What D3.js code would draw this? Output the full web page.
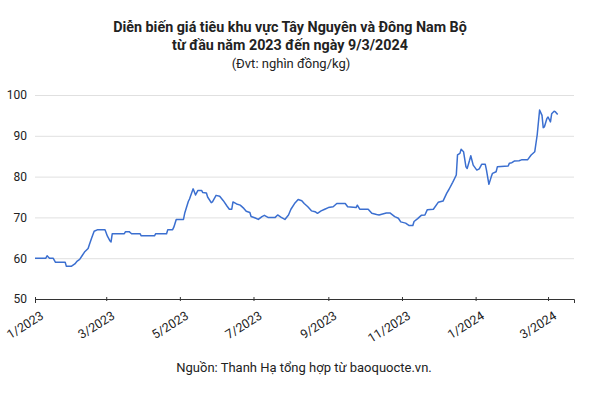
<!DOCTYPE html>
<html>
<head>
<meta charset="utf-8">
<script src="https://cdn.jsdelivr.net/npm/d3@7"></script>
<style>
  body { margin: 0; background: #fff; }
  svg { font-family: Roboto, "Noto Sans", sans-serif; }
</style>
</head>
<body>
<svg id="chart" width="591" height="396"></svg>
<script>
// giá tiêu (nghìn đồng/kg)
const dates = [
  "2023-01-01","2023-01-10","2023-01-11","2023-01-13","2023-01-16","2023-01-18","2023-01-26","2023-01-27","2023-01-31",
  "2023-02-03","2023-02-05","2023-02-07","2023-02-09","2023-02-11","2023-02-14","2023-02-15","2023-02-17","2023-02-19",
  "2023-02-22","2023-02-28","2023-03-02","2023-03-04","2023-03-05","2023-03-06","2023-03-16","2023-03-17","2023-03-20",
  "2023-03-22","2023-03-29","2023-03-30","2023-04-10","2023-04-11","2023-04-20","2023-04-21","2023-04-25","2023-04-26",
  "2023-04-28","2023-05-04","2023-05-05","2023-05-08","2023-05-09","2023-05-12","2023-05-14","2023-05-16","2023-05-19",
  "2023-05-20","2023-05-23","2023-05-24","2023-05-27","2023-05-28","2023-05-31","2023-06-03","2023-06-06","2023-06-09",
  "2023-06-11","2023-06-13","2023-06-14","2023-06-17","2023-06-20","2023-06-23","2023-06-25","2023-06-28","2023-06-29",
  "2023-07-02","2023-07-05","2023-07-08","2023-07-10","2023-07-13","2023-07-19","2023-07-21","2023-07-24","2023-07-27",
  "2023-07-30","2023-08-01","2023-08-04","2023-08-07","2023-08-10","2023-08-12","2023-08-15","2023-08-18","2023-08-21",
  "2023-08-23","2023-08-26","2023-08-29","2023-09-01","2023-09-05","2023-09-08","2023-09-15","2023-09-17","2023-09-24",
  "2023-09-25","2023-09-27","2023-10-04","2023-10-07","2023-10-11","2023-10-13","2023-10-19","2023-10-22","2023-10-26",
  "2023-10-29","2023-10-31","2023-11-04","2023-11-07","2023-11-10","2023-11-11","2023-11-14","2023-11-17","2023-11-20",
  "2023-11-22","2023-11-27","2023-12-01","2023-12-05","2023-12-08","2023-12-10","2023-12-13","2023-12-16","2023-12-17",
  "2023-12-19","2023-12-20","2023-12-22","2023-12-24","2023-12-25","2023-12-27","2023-12-28","2023-12-30","2024-01-02",
  "2024-01-04","2024-01-06","2024-01-09","2024-01-10","2024-01-12","2024-01-14","2024-01-15","2024-01-18","2024-01-19",
  "2024-01-28","2024-01-29","2024-01-31","2024-02-02","2024-02-06","2024-02-08","2024-02-13","2024-02-16","2024-02-19",
  "2024-02-21","2024-02-23","2024-02-25","2024-02-26","2024-02-27","2024-02-29","2024-03-01","2024-03-03","2024-03-04",
  "2024-03-06","2024-03-07","2024-03-09"
];
const prices = [
  60, 60, 60.6, 60, 60, 59, 59, 58, 58,
  58.6, 59.3, 59.7, 60.6, 61.5, 62.4, 63.3, 65, 66.6,
  67, 67, 65.4, 64.3, 64, 66, 66, 66.5, 66.5,
  66, 66, 65.5, 65.5, 66, 66, 67, 67, 67.6,
  69.5, 69.5, 71, 73.9, 74.5, 77, 75.5, 76.6, 76.6,
  76.1, 76, 75, 73.6, 73.8, 75.4, 75.2, 74.1, 72.8,
  72, 72, 73.8, 73.3, 73, 72.2, 71.5, 71.2, 70.2,
  69.9, 69.5, 70.2, 70.5, 70, 70, 70.6, 70, 69.5,
  70.6, 72, 73.4, 74.4, 74.1, 73.4, 72.6, 71.6, 71.4,
  71, 71.6, 72, 72.4, 72.6, 73.4, 73.4, 72.6, 72.4,
  73, 72, 72, 71, 70.7, 70.6, 71.1, 71.1, 70.2,
  69.8, 68.9, 68.6, 68, 68, 69, 69.7, 70.5, 70.6,
  71.9, 72, 73.7, 74, 75.9, 76.9, 78.6, 80.4, 85.3,
  85.7, 86.7, 86.1, 82.4, 82, 84, 85.1, 82.8, 81.6,
  81.9, 83, 83, 81.6, 78.1, 80, 80.8, 81.2, 82.4,
  82.6, 83.3, 83.4, 83.8, 83.9, 84.1, 84.1, 85.3, 86.1,
  90.2, 96.3, 95, 92, 92.2, 94.2, 94.6, 93.4, 95.4,
  96, 95.9, 95.2
];
const yTicks = [50, 60, 70, 80, 90, 100];
const xTickDates = ["2023-01-01","2023-03-01","2023-05-01","2023-07-01","2023-09-01","2023-11-01","2024-01-01","2024-03-01"];
const titleLines = ["Diễn biến giá tiêu khu vực Tây Nguyên và Đông Nam Bộ", "từ đầu năm 2023 đến ngày 9/3/2024"];
const subtitle = "(Đvt: nghìn đồng/kg)";
const source = "Nguồn: Thanh Hạ tổng hợp từ baoquocte.vn.";

const parse = d3.timeParse("%Y-%m-%d");
const data = dates.map((d, i) => ({ date: parse(d), value: prices[i] }));

const svg = d3.select("#chart");
const margin = { top: 95, right: 17, bottom: 97, left: 35 };
const width = 591 - margin.left - margin.right, height = 396 - margin.top - margin.bottom;
const g = svg.append("g").attr("transform", `translate(${margin.left},${margin.top})`);

const x = d3.scaleTime().domain([parse("2023-01-01"), new Date(2024, 2, 22, 12)]).range([0, width]);
const y = d3.scaleLinear().domain([50, 100]).range([height, 0]);

// gridlines
g.append("g").attr("class", "grid")
  .call(d3.axisLeft(y).tickValues(yTicks.filter(v => v > 50)).tickSize(-width).tickFormat(""))
  .call(s => s.select(".domain").remove())
  .call(s => s.selectAll("line").attr("stroke", "#e0e0e0").attr("stroke-width", 1));

// y labels
g.append("g")
  .call(d3.axisLeft(y).tickValues(yTicks).tickSize(0).tickPadding(8))
  .call(s => s.select(".domain").remove())
  .call(s => s.selectAll("text").attr("font-size", 12).attr("fill", "#222").attr("font-family", "Roboto, sans-serif"));

// x axis
const xAxis = g.append("g").attr("transform", `translate(0,${height})`)
  .call(d3.axisBottom(x).tickValues(xTickDates.map(parse)).tickSizeOuter(0).tickSize(4).tickFormat(d3.timeFormat("%-m/%Y")));
xAxis.select(".domain").attr("stroke", "#333");
xAxis.selectAll(".tick line").attr("stroke", "#333").attr("y1", -2).attr("y2", 2);
xAxis.selectAll("text")
  .attr("font-size", 12.5).attr("fill", "#222").attr("font-family", "Roboto, sans-serif")
  .attr("text-anchor", "end").attr("dy", null).attr("y", 0)
  .attr("transform", "translate(9,19) rotate(-32)");

// line
g.append("path").datum(data)
  .attr("fill", "none").attr("stroke", "#3b6fd0").attr("stroke-width", 1.5).attr("stroke-linejoin", "round")
  .attr("d", d3.line().x(d => x(d.date)).y(d => y(d.value)));

// titles
svg.selectAll(".title").data(titleLines).enter().append("text")
  .attr("x", 290).attr("y", (d, i) => 32 + i * 18)
  .attr("text-anchor", "middle").attr("font-size", 14.3).attr("font-weight", "bold").attr("fill", "#222")
  .text(d => d);
svg.append("text").attr("x", 291).attr("y", 68).attr("text-anchor", "middle")
  .attr("font-size", 13).attr("fill", "#222").text(subtitle);
svg.append("text").attr("x", 304).attr("y", 372).attr("text-anchor", "middle")
  .attr("font-size", 13).attr("fill", "#222").text(source);
</script>
</body>
</html>
